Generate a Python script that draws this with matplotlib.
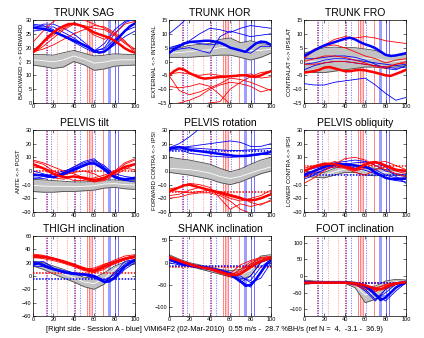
import numpy as np
import matplotlib
matplotlib.use("Agg")
import matplotlib.pyplot as plt

plt.rcParams['font.family'] = ['Liberation Sans', 'DejaVu Sans']

# gait cycle sampling (% of cycle)
pct10 = np.arange(0, 101, 10)
pct5 = np.arange(0, 101, 5)

# gait events (% of cycle)
ev_red_dashdot = [13, 40]
ev_red_dotted = [24, 33]
ev_blue_dashdot = [14, 41]
ev_blue_dotted = [18, 46, 61]
ev_red_solid = [53, 55, 58, 69]
ev_red_span = (55, 58)
ev_blue_span = (73.5, 76)
ev_blue_solid = [80, 83.5]

# ---------------- TRUNK SAG ----------------
sag_ref_hi = [17.5, 17.5, 17.3, 18.2, 19.0, 18.0, 17.0, 17.3, 17.8, 17.6, 17.5]
sag_ref_lo = [13.7, 13.2, 12.5, 13.0, 15.0, 13.8, 11.8, 12.3, 13.3, 13.6, 13.7]
sag_ref_mid = [15.6, 15.3, 14.9, 15.6, 17.0, 15.9, 14.4, 14.8, 15.5, 15.6, 15.6]
sag_blue_mean = [27.3, 27.0, 26.8, 26.5, 25.8, 25.0, 24.2, 23.4, 22.6, 21.8, 20.9,
                 20.0, 18.8, 18.2, 18.6, 20.0, 22.0, 24.0, 26.0, 27.7, 28.8]
sag_blue_trials = [
    [28.0, 27.5, 27.5, 25.5, 23.5, 21.0, 18.5, 20.0, 25.0, 29.0, 30.5],
    [26.0, 26.5, 25.5, 24.5, 22.5, 21.0, 18.8, 21.5, 26.5, 29.5, 30.5],
    [27.0, 28.5, 28.5, 27.0, 25.0, 22.0, 19.0, 19.5, 23.0, 26.0, 27.5],
    [28.5, 28.0, 26.5, 24.0, 22.0, 20.0, 18.2, 18.5, 21.0, 24.0, 26.0],
]
sag_red_mean = [18.5, 20.0, 22.0, 24.0, 25.5, 26.8, 27.8, 28.5, 28.6, 28.2, 27.5,
                26.5, 25.5, 24.8, 24.2, 23.5, 22.5, 21.2, 19.8, 18.8, 18.2]
sag_red_trials = [
    [22.0, 26.0, 29.5, 31.0, 31.0, 30.0, 28.5, 27.0, 25.0, 22.0, 19.5],
    [18.0, 20.5, 23.5, 26.5, 28.5, 28.0, 27.0, 26.5, 24.5, 21.5, 19.0],
    [18.5, 19.5, 21.0, 23.0, 25.0, 26.5, 28.0, 27.5, 25.5, 22.5, 18.0],
    [19.0, 22.0, 24.5, 27.0, 29.0, 27.5, 24.5, 23.0, 25.0, 28.5, 29.5],
]

# ---------------- TRUNK HOR ----------------
hor_ref_hi = [4.5, 5.0, 5.8, 6.2, 6.5, 8.0, 8.5, 6.8, 7.5, 6.5, 6.0]
hor_ref_lo = [1.5, 1.5, 1.5, 1.8, 2.0, 2.3, 2.3, 1.5, 0.5, 1.5, 3.0]
hor_ref_mid = [3.0, 3.2, 3.6, 4.0, 4.2, 5.0, 5.2, 4.2, 4.0, 4.0, 4.5]
hor_blue_mean = [3.0, 4.5, 5.5, 6.5, 7.0, 7.2, 7.3, 7.5, 7.5, 7.2, 6.8,
                 6.0, 5.0, 4.5, 4.0, 3.5, 5.0, 6.5, 7.2, 7.0, 6.0]
hor_blue_trials = [
    [10.0, 13.0, 16.5, 16.5, 16.5, 16.5, 16.5, 16.5, 16.5, 16.5, 16.5],
    [5.0, 6.0, 7.5, 10.0, 12.0, 11.5, 10.5, 12.0, 13.0, 12.5, 12.0],
    [3.5, 4.5, 5.0, 4.0, 3.0, 9.0, 11.0, 10.0, 9.0, 9.5, 10.0],
    [4.5, 6.0, 7.0, 6.5, 6.0, 6.5, 5.0, 4.0, 3.0, 5.5, 5.5],
]
hor_red_mean = [-5.0, -3.5, -2.5, -3.0, -4.2, -5.0, -5.8, -6.2, -6.0, -5.8, -5.6,
                -5.5, -5.3, -5.2, -5.0, -5.0, -5.4, -5.6, -5.0, -4.2, -3.5]
hor_red_trials = [
    [-9.0, -9.5, -9.0, -8.0, -9.0, -12.0, -15.5, -16.0, -16.0, -16.0, -16.0],
    [-5.0, -10.5, -12.0, -11.0, -9.5, -8.0, -6.0, -6.5, -7.5, -9.0, -10.5],
    [-15.5, -15.0, -14.0, -12.5, -10.0, -8.5, -7.5, -8.0, -9.0, -11.0, -10.0],
    [-16.0, -16.0, -15.5, -15.5, -15.0, -14.5, -10.0, -7.5, -5.5, -4.0, -3.5],
    [-4.5, -4.0, -4.5, -5.0, -4.5, -5.0, -5.5, -5.0, -4.5, -6.0, -5.5],
]

# ---------------- TRUNK FRO ----------------
fro_ref_hi = [3.0, 4.0, 5.0, 5.2, 5.0, 5.0, 4.5, 4.0, 2.5, 2.0, 2.5]
fro_ref_lo = [-3.5, -4.0, -4.0, -3.5, -3.0, -2.5, -2.0, -2.0, -2.0, -2.0, -1.5]
fro_ref_mid = [-0.2, 0.0, 0.5, 0.8, 1.0, 1.2, 1.2, 1.0, 0.3, 0.0, 0.5]
fro_blue_mean = [2.0, 3.0, 4.0, 5.0, 5.8, 6.4, 7.0, 7.6, 8.2, 8.6, 8.0,
                 7.0, 6.2, 5.6, 4.8, 3.6, 2.4, 2.0, 2.2, 2.6, 3.0]
fro_blue_trials = [
    [-8.0, -8.5, -8.5, -7.5, -7.0, -6.5, -6.0, -8.5, -11.5, -14.0, -13.0],
    [-3.0, -1.5, -0.5, 0.0, 0.0, -0.5, -1.0, -1.5, -2.0, -2.5, -2.0],
    [1.0, 1.0, 1.5, 2.0, 2.0, 1.5, 0.5, -1.0, -2.5, -3.0, -1.5],
    [-1.0, -0.5, 0.5, 1.0, 1.0, 0.5, 0.0, -0.5, -1.0, -1.5, -1.0],
]
fro_red_mean = [-4.0, -3.8, -3.5, -3.0, -2.2, -2.0, -2.5, -3.0, -3.5, -3.5, -3.2,
                -3.0, -3.2, -3.6, -4.0, -4.5, -5.0, -5.2, -4.5, -3.8, -3.0]
fro_red_trials = [
    [1.0, 4.0, 6.0, 8.0, 9.0, 8.5, 9.0, 8.5, 7.5, 7.0, 6.5],
    [1.5, 4.5, 5.5, 6.0, 5.0, 3.5, 2.0, 1.0, -0.5, 0.5, 1.0],
    [0.0, 1.0, 2.0, 2.0, 1.5, 0.5, -0.5, -2.0, -2.5, -1.0, 0.0],
    [-1.0, -1.0, -0.5, 0.0, 0.0, -0.5, -1.0, -1.5, -2.0, -1.0, -0.5],
]

# ---------------- PELVIS tilt ----------------
tilt_ref_hi = [-6.0, -6.5, -7.0, -7.5, -8.0, -8.0, -7.5, -6.5, -6.5, -7.0, -7.0]
tilt_ref_lo = [-15.0, -15.5, -15.5, -15.0, -15.0, -14.5, -14.0, -12.5, -12.0, -13.0, -13.5]
tilt_ref_mid = [-10.5, -11.0, -11.2, -11.2, -11.5, -11.2, -10.8, -9.5, -9.2, -10.0, -10.2]
tilt_blue_mean = [-3.0, -3.0, -3.2, -3.8, -4.5, -3.5, -2.0, -0.5, 1.0, 2.5, 4.0,
                  5.5, 5.5, 3.5, 1.0, -2.0, -4.5, -5.5, -6.0, -5.5, -5.0]
tilt_blue_trials = [
    [0.0, -2.0, -4.0, -1.0, 3.0, 7.0, 9.0, 2.0, -4.0, -6.0, -5.0],
    [-5.0, -5.5, -4.0, -1.0, 3.0, 6.0, 8.0, 4.0, -3.0, -7.0, -8.0],
    [-2.0, -3.0, -5.0, -3.0, 0.0, 4.0, 6.0, 2.0, -2.0, -4.0, -5.0],
    [-6.0, -4.0, -2.0, 0.0, 2.0, 5.0, 7.0, 3.0, -5.0, -7.0, -6.0],
]
tilt_red_mean = [5.0, 3.5, 2.0, 0.0, -2.0, -3.5, -4.5, -4.5, -4.0, -4.5, -5.0,
                 -5.8, -6.5, -6.0, -5.0, -3.0, -1.0, 1.0, 3.0, 4.0, 5.0]
tilt_red_trials = [
    [8.0, 6.0, 3.0, 0.0, -2.0, -5.0, -8.0, -6.0, 0.0, 6.0, 9.0],
    [7.0, 5.0, 0.0, -3.0, -1.0, 0.0, -2.0, -6.0, -2.0, 5.0, 8.0],
    [-2.0, -3.0, -5.0, -6.0, -4.0, -6.0, -8.0, -7.0, -3.0, 1.0, 5.0],
    [3.0, 2.0, 0.0, -4.0, -7.0, -7.0, -5.0, -3.0, 0.0, 2.0, 1.0],
]

# ---------------- PELVIS rotation ----------------
rot_ref_hi = [10.0, 9.0, 8.0, 6.5, 5.0, 2.0, -0.5, 1.5, 5.0, 8.0, 10.0]
rot_ref_lo = [-1.0, -2.0, -3.0, -4.5, -6.0, -8.5, -10.0, -8.0, -5.0, -2.0, 0.0]
rot_ref_mid = [2.0, 1.5, 1.0, 0.0, -1.5, -4.0, -5.5, -4.0, -1.5, 1.0, 3.0]
rot_blue_mean = [16.0, 17.0, 17.5, 16.5, 15.5, 15.0, 14.5, 14.0, 13.5, 13.0, 12.5,
                 12.0, 11.5, 11.0, 11.0, 11.0, 11.5, 12.0, 12.5, 13.0, 14.0]
rot_blue_trials = [
    [17.0, 20.0, 25.0, 31.0, 31.0, 31.0, 31.0, 31.0, 31.0, 31.0, 31.0],
    [16.0, 17.0, 18.0, 19.0, 20.0, 21.0, 22.0, 21.0, 18.0, 18.0, 20.0],
    [17.0, 18.0, 17.0, 16.5, 16.0, 15.5, 15.0, 15.0, 15.5, 16.0, 16.5],
    [15.0, 16.0, 13.0, 12.0, 11.0, 10.5, 10.0, 10.5, 11.0, 12.0, 12.0],
]
rot_red_mean = [-15.0, -13.5, -12.0, -10.5, -10.0, -11.0, -12.0, -13.0, -14.0, -15.0, -16.0,
                -17.0, -18.0, -19.0, -20.0, -21.0, -21.5, -21.0, -20.0, -18.5, -17.0]
rot_red_trials = [
    [-20.0, -19.0, -17.0, -16.0, -16.0, -18.0, -22.0, -28.0, -31.0, -31.0, -31.0],
    [-13.0, -12.0, -9.0, -10.0, -12.0, -20.0, -28.0, -24.0, -26.0, -24.0, -22.0],
    [-18.0, -17.0, -14.0, -12.0, -14.0, -17.0, -20.0, -22.0, -20.0, -18.0, -14.0],
    [-14.0, -15.0, -16.0, -15.0, -14.0, -15.0, -17.0, -19.0, -23.0, -25.0, -21.0],
]

# ---------------- PELVIS obliquity ----------------
obl_ref_hi = [0.0, -1.0, -1.0, 2.0, 4.0, 4.5, 3.0, 2.0, 1.0, 0.5, 0.5]
obl_ref_lo = [-4.0, -4.5, -5.0, -3.0, -1.0, -1.0, -3.0, -3.5, -3.0, -3.0, -4.0]
obl_ref_mid = [-2.0, -2.7, -3.0, -0.5, 1.5, 1.8, 0.0, -0.8, -1.0, -1.2, -1.8]
obl_blue_mean = [-3.0, -1.5, 0.0, 1.5, 3.0, 4.0, 4.8, 5.0, 5.0, 4.5, 4.0,
                 3.5, 3.0, 1.5, -1.0, -3.0, -5.0, -5.8, -6.0, -6.0, -5.5]
obl_blue_trials = [
    [-6.0, -3.0, 1.0, 4.0, 5.0, 6.0, 6.5, 6.0, 3.0, -4.0, -9.0],
    [-2.0, 0.0, 3.0, 5.0, 4.0, 2.0, 0.5, -2.0, -5.0, -7.0, -8.0],
    [0.0, 2.0, 4.0, 6.0, 7.0, 8.0, 7.0, 4.0, 0.0, -2.0, -3.0],
    [-4.0, -2.0, 1.0, 3.0, 3.0, 2.0, 3.0, 1.0, -3.0, -5.0, -5.0],
]
obl_red_mean = [0.0, 1.5, 3.0, 4.0, 5.0, 5.2, 5.0, 4.0, 3.0, 2.0, 1.0,
                2.5, 4.5, 6.0, 6.5, 5.5, 4.0, 2.5, 1.0, 0.5, 0.0]
obl_red_trials = [
    [-9.0, -5.0, 0.0, 5.0, 9.0, 10.0, 8.0, 4.0, 1.0, -2.0, -4.0],
    [-5.0, -1.0, 4.0, 7.0, 5.0, 1.0, 6.0, 7.0, 4.0, 1.0, 0.0],
    [2.0, 4.0, 6.0, 5.0, 3.0, 0.0, 2.0, 6.0, 7.0, 4.0, 1.0],
    [-2.0, 0.0, 2.0, 3.0, 2.0, -1.0, -3.0, 1.0, 3.0, 0.0, -2.0],
]

# ---------------- THIGH inclination ----------------
thigh_ref_hi = [22.0, 20.0, 15.0, 10.0, 4.0, -2.0, -3.0, 5.0, 15.0, 21.0, 23.0]
thigh_ref_lo = [15.0, 10.0, 3.0, -3.0, -9.0, -16.0, -20.0, -12.0, 5.0, 15.0, 18.0]
thigh_ref_mid = [18.5, 15.0, 9.0, 3.5, -2.5, -9.0, -11.5, -3.5, 10.0, 18.0, 20.5]
thigh_blue_mean = [17.0, 19.5, 16.0, 12.5, 10.0, 8.0, 6.0, 4.5, 3.5, 3.0, 2.5,
                   1.5, 0.0, -4.0, -9.0, -8.0, -2.0, 6.0, 14.0, 20.0, 23.0]
thigh_blue_trials = [
    [20.0, 22.0, 12.0, 6.0, 3.0, 2.0, -1.0, -10.0, 5.0, 22.0, 25.0],
    [15.0, 14.0, 10.0, 6.0, 4.0, 2.0, -2.0, -8.0, -3.0, 15.0, 22.0],
    [22.0, 18.0, 12.0, 8.0, 5.0, 3.0, 0.0, -6.0, 2.0, 18.0, 25.0],
    [18.0, 16.0, 11.0, 5.0, 2.0, 1.0, -3.0, -10.0, -5.0, 10.0, 20.0],
]
thigh_red_mean = [30.0, 29.5, 28.5, 27.5, 26.0, 24.0, 22.0, 19.5, 17.0, 14.0, 11.5,
                  8.5, 8.0, 11.0, 14.5, 17.5, 20.5, 23.5, 26.0, 28.0, 29.5]
thigh_red_trials = [
    [33.0, 31.0, 27.0, 22.0, 17.0, 12.0, 10.0, 17.0, 24.0, 30.0, 32.0],
    [28.0, 26.0, 23.0, 19.0, 14.0, 8.0, 6.0, 12.0, 18.0, 24.0, 28.0],
    [31.0, 30.0, 26.0, 20.0, 15.0, 10.0, 12.0, 18.0, 22.0, 27.0, 30.0],
    [27.0, 28.0, 25.0, 21.0, 16.0, 9.0, 5.0, 10.0, 20.0, 25.0, 27.0],
]

# ---------------- SHANK inclination ----------------
shank_ref_hi = [18.0, 8.0, 0.0, -5.0, -10.0, -15.0, -18.0, -15.0, -5.0, 15.0, 18.0]
shank_ref_lo = [8.0, -2.0, -8.0, -14.0, -20.0, -26.0, -32.0, -38.0, -30.0, 2.0, 8.0]
shank_ref_mid = [13.0, 3.0, -4.0, -9.5, -15.0, -20.5, -25.0, -26.5, -17.5, 8.5, 13.0]
shank_blue_mean = [8.0, 3.0, -1.0, -4.0, -6.0, -8.0, -10.0, -12.0, -14.0, -16.0, -19.0,
                   -22.0, -27.0, -33.0, -42.0, -52.0, -50.0, -38.0, -22.0, -5.0, 5.0]
shank_blue_trials = [
    [10.0, 0.0, -5.0, -10.0, -14.0, -18.0, -25.0, -40.0, -55.0, -20.0, 5.0],
    [5.0, -3.0, -6.0, -9.0, -13.0, -17.0, -22.0, -35.0, -40.0, -10.0, 8.0],
    [12.0, 2.0, -3.0, -7.0, -11.0, -16.0, -22.0, -30.0, -45.0, -35.0, 0.0],
    [0.0, -5.0, -8.0, -12.0, -15.0, -20.0, -28.0, -45.0, -30.0, 0.0, 10.0],
]
shank_red_mean = [12.0, 8.0, 4.0, 0.0, -4.0, -7.0, -10.0, -12.0, -14.0, -17.0, -20.0,
                  -24.0, -27.0, -28.0, -25.0, -18.0, -10.0, -3.0, 3.0, 7.0, 10.0]
shank_red_trials = [
    [15.0, 6.0, -2.0, -8.0, -14.0, -20.0, -30.0, -15.0, 2.0, 10.0, 12.0],
    [10.0, 3.0, -5.0, -10.0, -15.0, -22.0, -24.0, -5.0, 5.0, 12.0, 14.0],
    [5.0, 0.0, -6.0, -11.0, -16.0, -24.0, -32.0, -25.0, -5.0, 5.0, 8.0],
    [14.0, 5.0, -3.0, -9.0, -13.0, -18.0, -26.0, -20.0, -2.0, 8.0, 12.0],
]

# ---------------- FOOT inclination ----------------
foot_ref_hi = [-12.0, -15.0, -16.0, -16.0, -16.0, -18.0, -35.0, -30.0, -15.0, -10.0, -12.0]
foot_ref_lo = [-25.0, -22.0, -22.0, -22.0, -22.0, -35.0, -80.0, -70.0, -40.0, -25.0, -22.0]
foot_ref_mid = [-18.0, -18.5, -19.0, -19.0, -19.0, -26.0, -57.0, -50.0, -28.0, -17.0, -17.0]
foot_blue_mean = [-18.0, -20.0, -20.0, -20.0, -20.0, -20.0, -20.0, -20.0, -20.0, -21.0, -22.0,
                  -25.0, -30.0, -40.0, -55.0, -72.0, -65.0, -50.0, -35.0, -25.0, -20.0]
foot_blue_trials = [
    [-15.0, -18.0, -20.0, -20.0, -20.0, -22.0, -35.0, -55.0, -75.0, -45.0, -20.0],
    [-20.0, -20.0, -20.0, -20.0, -20.0, -24.0, -40.0, -70.0, -50.0, -25.0, -18.0],
    [-22.0, -20.0, -20.0, -20.0, -21.0, -25.0, -30.0, -60.0, -60.0, -35.0, -22.0],
    [-18.0, -19.0, -20.0, -20.0, -20.0, -23.0, -45.0, -75.0, -40.0, -20.0, -15.0],
]
foot_red_mean = [-20.0, -20.0, -20.0, -20.0, -20.0, -20.0, -20.0, -20.0, -20.0, -21.0, -22.0,
                 -25.0, -28.0, -33.0, -38.0, -40.0, -35.0, -28.0, -23.0, -20.0, -19.0]
foot_red_trials = [
    [-18.0, -20.0, -20.0, -20.0, -20.0, -25.0, -35.0, -48.0, -30.0, -22.0, -20.0],
    [-20.0, -20.0, -20.0, -20.0, -21.0, -28.0, -40.0, -40.0, -25.0, -20.0, -18.0],
    [-22.0, -20.0, -20.0, -20.0, -20.0, -24.0, -30.0, -45.0, -35.0, -22.0, -20.0],
    [-19.0, -20.0, -20.0, -20.0, -20.0, -22.0, -32.0, -35.0, -28.0, -20.0, -19.0],
]

titles = ["TRUNK SAG", "TRUNK HOR", "TRUNK FRO",
          "PELVIS tilt", "PELVIS rotation", "PELVIS obliquity",
          "THIGH inclination", "SHANK inclination", "FOOT inclination"]
ylabels = ["BACKWARD <-> FORWARD", "EXTERNAL <-> INTERNAL", "CONTRALAT <-> IPSILAT",
           "ANTE <-> POST", "FORWARD CONTRA <-> IPSI", "LOWER CONTRA <-> IPSI",
           "", "", ""]
ylims = [(0, 30), (-15, 15), (-15, 15),
         (-30, 30), (-30, 30), (-30, 30),
         (-60, 60), (-120, 60), (-120, 120)]
yticks = [np.arange(0, 31, 5), np.arange(-15, 16, 5), np.arange(-15, 16, 5),
          np.arange(-30, 31, 10), np.arange(-30, 31, 10), np.arange(-30, 31, 10),
          np.arange(-60, 61, 20), np.arange(-100, 51, 50), np.arange(-100, 101, 50)]
# horizontal reference levels (red, blue); None where absent
hlines_red = [None, None, None, 0, -15, 4, 5, -10, -20]
hlines_blue = [None, None, None, None, 15, -3, -5, -8, -20]

refs = [
    (sag_ref_lo, sag_ref_hi, sag_ref_mid), (hor_ref_lo, hor_ref_hi, hor_ref_mid),
    (fro_ref_lo, fro_ref_hi, fro_ref_mid), (tilt_ref_lo, tilt_ref_hi, tilt_ref_mid),
    (rot_ref_lo, rot_ref_hi, rot_ref_mid), (obl_ref_lo, obl_ref_hi, obl_ref_mid),
    (thigh_ref_lo, thigh_ref_hi, thigh_ref_mid), (shank_ref_lo, shank_ref_hi, shank_ref_mid),
    (foot_ref_lo, foot_ref_hi, foot_ref_mid),
]
blue_means = [sag_blue_mean, hor_blue_mean, fro_blue_mean, tilt_blue_mean, rot_blue_mean,
              obl_blue_mean, thigh_blue_mean, shank_blue_mean, foot_blue_mean]
blue_trials = [sag_blue_trials, hor_blue_trials, fro_blue_trials, tilt_blue_trials,
               rot_blue_trials, obl_blue_trials, thigh_blue_trials, shank_blue_trials,
               foot_blue_trials]
red_means = [sag_red_mean, hor_red_mean, fro_red_mean, tilt_red_mean, rot_red_mean,
             obl_red_mean, thigh_red_mean, shank_red_mean, foot_red_mean]
red_trials = [sag_red_trials, hor_red_trials, fro_red_trials, tilt_red_trials,
              rot_red_trials, obl_red_trials, thigh_red_trials, shank_red_trials,
              foot_red_trials]

BLUE = (0.0, 0.0, 1.0)
RED = (1.0, 0.0, 0.0)

fig = plt.figure(figsize=(4.24, 3.38), dpi=100)
W, H = 424.0, 338.0
col_left = [33, 169, 304]
row_top = [20, 130, 236]
row_h = [83, 82, 80]
ax_w = 102


def draw_events(ax):
    ax.axvspan(*ev_red_span, color=(1.0, 0.78, 0.78), lw=0, zorder=0.5)
    ax.axvspan(*ev_blue_span, color=(0.62, 0.62, 1.0), lw=0, zorder=0.5)
    for x in ev_red_dotted:
        ax.axvline(x, color=(1.0, 0.6, 0.6), lw=0.6, ls=(0, (1.5, 1.5)), zorder=1)
    for x in ev_red_dashdot:
        ax.axvline(x, color=(0.85, 0.15, 0.3), lw=0.6, ls=(0, (1.5, 1.5)), zorder=1)
    for x in ev_blue_dotted:
        ax.axvline(x, color=(0.45, 0.45, 1.0), lw=0.6, ls=(0, (1.5, 1.5)), zorder=1)
    for x in ev_blue_dashdot:
        ax.axvline(x, color=(0.35, 0.2, 0.85), lw=0.6, ls=(0, (1.5, 1.5)), zorder=1)
    for x in ev_red_solid:
        ax.axvline(x, color=(1.0, 0.45, 0.45), lw=0.6, zorder=1)
    for x in ev_blue_solid:
        ax.axvline(x, color=(0.35, 0.35, 1.0), lw=0.6, zorder=1)


for i in range(9):
    r, c = divmod(i, 3)
    left = col_left[c] / W
    bottom = 1 - (row_top[r] + row_h[r]) / H
    ax = fig.add_axes([left, bottom, ax_w / W, row_h[r] / H])
    ax.set_xlim(0, 100)
    ax.set_ylim(*ylims[i])
    draw_events(ax)

    lo, hi, mid = refs[i]
    ax.fill_between(pct10, lo, hi, color=(0.76, 0.76, 0.76), lw=0, zorder=2)
    ax.plot(pct10, lo, color=(0.3, 0.3, 0.3), lw=0.6, zorder=2.1)
    ax.plot(pct10, hi, color=(0.3, 0.3, 0.3), lw=0.6, zorder=2.1)
    ax.plot(pct10, mid, color='white', lw=0.6, zorder=2.2)

    if hlines_red[i] is not None:
        ax.axhline(hlines_red[i], color=RED, lw=1.1, ls=(0, (1, 1)), zorder=3)
    if hlines_blue[i] is not None:
        ax.axhline(hlines_blue[i], color=BLUE, lw=1.1, ls=(0, (1, 1)), zorder=3)

    for tr in blue_trials[i]:
        ax.plot(pct10, tr, color=BLUE, lw=0.6, zorder=3.5)
    for tr in red_trials[i]:
        ax.plot(pct10, tr, color=RED, lw=0.6, zorder=3.6)
    ax.plot(pct5, blue_means[i], color=BLUE, lw=1.8, zorder=4)
    ax.plot(pct5, red_means[i], color=RED, lw=1.8, zorder=4.1)

    ax.set_xticks(np.arange(0, 101, 20))
    ax.set_yticks(yticks[i])
    ax.tick_params(direction='in', length=2, width=0.4, labelsize=4.0, pad=1.0,
                   top=True, right=True)
    for s in ax.spines.values():
        s.set_linewidth(0.5)
    ax.set_title(titles[i], fontsize=7.5, pad=3)
    if ylabels[i]:
        ax.set_ylabel(ylabels[i], fontsize=4.2, labelpad=1)

fig.text(214 / W, 1 - 329.5 / H,
         "[Right side - Session A - blue] ViMi64F2 (02-Mar-2010)  0.55 m/s -  28.7 %BH/s "
         "(ref N =  4,  -3.1 -  36.9)",
         ha='center', va='center', fontsize=5.3)

fig.savefig("out.png", dpi=100)
